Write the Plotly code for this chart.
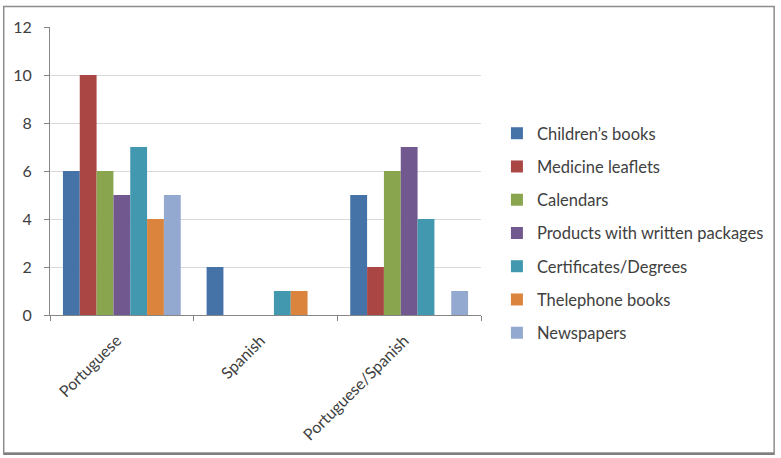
import plotly.graph_objects as go

categories = ["Portuguese", "Spanish", "Portuguese/Spanish"]
series_names = ["Children’s books", "Medicine leaflets", "Calendars",
                "Products with written packages", "Certificates/Degrees",
                "Thelephone books", "Newspapers"]
childrens_books = [6, 2, 5]
medicine_leaflets = [10, 0, 2]
calendars = [6, 0, 6]
products_packages = [5, 0, 7]
certificates = [7, 1, 4]
telephone_books = [4, 1, 0]
newspapers = [5, 0, 1]
series_values = [childrens_books, medicine_leaflets, calendars, products_packages,
                 certificates, telephone_books, newspapers]
colors = ["#4572A7", "#AA4643", "#89A54E", "#71588F", "#4198AF", "#DB843D", "#93A9CF"]
y_ticks = [0, 2, 4, 6, 8, 10, 12]

W, H = 781, 458
L, R, T, B = 50, 298, 27, 143
pw, ph = W - L - R, H - T - B

fig = go.Figure()
for i, (name, vals) in enumerate(zip(series_names, series_values)):
    fig.add_trace(go.Bar(x=categories, y=vals, name=name, legendgroup=f"g{i}",
                         marker=dict(color=colors[i], line=dict(width=0))))

def px_x(p):
    return (p - L) / pw

def px_y(p):
    return (H - B - p) / ph

fig.update_layout(
    width=W, height=H,
    margin=dict(l=L, r=R, t=T, b=B),
    paper_bgcolor="white", plot_bgcolor="white",
    barmode="group", bargap=0.18, bargroupgap=0,
    font=dict(family="Lato, 'Open Sans', sans-serif", color="#404040", size=14),
    legend=dict(x=px_x(499), y=px_y(116), xanchor="left", yanchor="top",
                font=dict(size=16.5, color="#404040"), traceorder="grouped",
                tracegroupgap=8.8, itemwidth=30, bgcolor="rgba(0,0,0,0)"),
    showlegend=True,
    xaxis=dict(type="category", tickangle=-45, tickson="boundaries", ticks="outside",
               ticklen=5, tickcolor="#868686", showline=True, linecolor="#868686",
               linewidth=1, tickfont=dict(size=16, color="#404040"), showgrid=False,
               ticklabelshift=-5, ticklabelstandoff=9),
    yaxis=dict(range=[0, 12], tickvals=y_ticks, ticks="outside", ticklen=5,
               tickcolor="#868686", showline=True, linecolor="#868686", linewidth=1,
               showgrid=True, gridcolor="#D9D9D9", gridwidth=1, zeroline=False,
               tickfont=dict(size=16, color="#404040"), ticklabelstandoff=9),
    shapes=[
        dict(type="rect", xref="paper", yref="paper",
             x0=px_x(3.5), x1=px_x(777.5), y0=px_y(453), y1=px_y(6.5),
             line=dict(color="#8C8C8C", width=1.5), layer="below"),
        dict(type="line", xref="paper", yref="paper",
             x0=px_x(3), x1=px_x(778), y0=px_y(454), y1=px_y(454),
             line=dict(color="#7F7F7F", width=2)),
    ],
)

fig.write_html("out.html")
